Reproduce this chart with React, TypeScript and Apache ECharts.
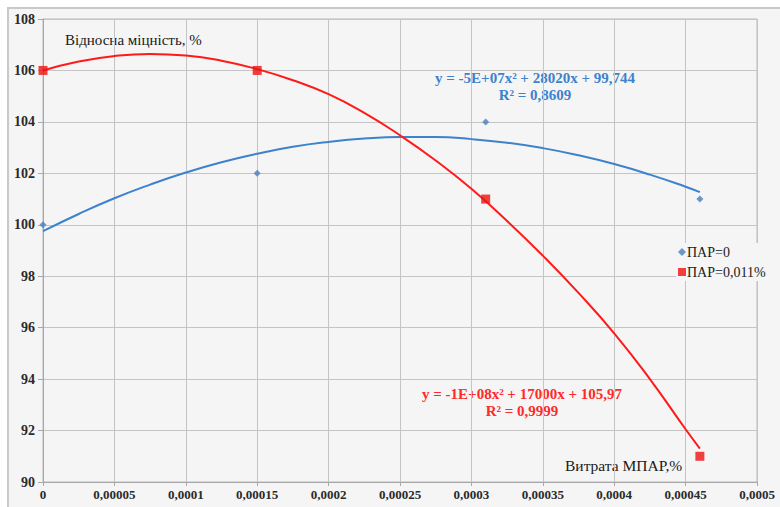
import React, { useEffect, useRef } from "react";
import * as echarts from "echarts";

// Measured points
const xPoints = [0, 0.00015, 0.00031, 0.00046];
const par0Values = [100, 102, 104, 101];
const par011Values = [106, 106, 101, 91];

// Trend curves
const trendX = [
  0, 0.000025, 0.00005, 0.000075, 0.0001, 0.000125, 0.00015, 0.000175, 0.0002, 0.000225,
  0.00025, 0.000275, 0.0003, 0.000325, 0.00035, 0.000375, 0.0004, 0.000425, 0.00045, 0.00046,
];
const trendPar0 = [
  99.75, 100.42, 101.03, 101.56, 102.03, 102.43, 102.76, 103.03, 103.22, 103.35,
  103.41, 103.41, 103.33, 103.19, 102.98, 102.7, 102.36, 101.95, 101.48, 101.27,
];
const trendPar011 = [
  106.0, 106.35, 106.56, 106.64, 106.58, 106.38, 106.05, 105.62, 105.08, 104.35,
  103.48, 102.5, 101.4, 100.15, 98.8, 97.35, 95.78, 94.0, 92.05, 91.3,
];

const seriesNames = ["ПАР=0", "ПАР=0,011%"];
const eqPar0 = ["y = -5E+07x² + 28020x + 99,744", "R² = 0,8609"];
const eqPar011 = ["y = -1E+08x² + 17000x + 105,97", "R² = 0,9999"];
const yTitle = "Відносна міцність, %";
const xTitle = "Витрата МПАР,%";

const BLUE = "#3d82cc";
const RED = "#ff1a1a";
const SERIF = "Times New Roman, Liberation Serif, DejaVu Serif, serif";

function fmtX(v: number): string {
  let s = v.toFixed(5);
  if (s.indexOf(".") >= 0) s = s.replace(/0+$/, "").replace(/\.$/, "");
  return s.replace(".", ",");
}

export default function App() {
  const ref = useRef<HTMLDivElement>(null);
  useEffect(() => {
    if (!ref.current) return;
    const chart = echarts.init(ref.current, null, { renderer: "svg" });
    const pts = (ys: number[]) => xPoints.map((x, i) => [x, ys[i]]);
    const tr = (ys: number[]) => trendX.map((x, i) => [x, ys[i]]);
    chart.setOption({
      animation: false,
      backgroundColor: "#f5f5f5",
      textStyle: { fontFamily: SERIF },
      grid: { left: 43, right: 23, top: 19, bottom: 25, show: true, borderColor: "#b8b8b8", borderWidth: 1 },
      xAxis: {
        type: "value",
        min: 0,
        max: 0.0005,
        interval: 0.00005,
        axisLine: { show: true, onZero: false, lineStyle: { color: "#a8a8a8", width: 1 } },
        axisTick: { show: true, length: 4, lineStyle: { color: "#a8a8a8" } },
        splitLine: { show: true, lineStyle: { color: "#c4c4c4", width: 1 } },
        axisLabel: {
          formatter: (v: number) => fmtX(v),
          fontFamily: SERIF,
          fontWeight: "bold",
          fontSize: 13,
          color: "#2a2a2a",
          margin: 6,
        },
      },
      yAxis: {
        type: "value",
        min: 90,
        max: 108,
        interval: 2,
        axisLine: { show: true, lineStyle: { color: "#a8a8a8", width: 1 } },
        axisTick: { show: true, length: 5, lineStyle: { color: "#a8a8a8" } },
        splitLine: { show: true, lineStyle: { color: "#c4c4c4", width: 1 } },
        axisLabel: {
          fontFamily: SERIF,
          fontWeight: "bold",
          fontSize: 14,
          color: "#2a2a2a",
          margin: 8,
        },
      },
      legend: {
        data: [
          { name: seriesNames[0], icon: "diamond" },
          { name: seriesNames[1], icon: "rect" },
        ],
        orient: "vertical",
        left: 676,
        top: 243,
        itemWidth: 8,
        itemHeight: 8,
        itemGap: 6,
        padding: [2, 2, 2, 2],
        backgroundColor: "#f5f5f5",
        textStyle: { fontFamily: SERIF, fontSize: 14, color: "#1a1a1a", padding: [0, 0, 0, -4] },
      },
      graphic: [
        { type: "rect", shape: { x: 0, y: 0, width: 780, height: 7 }, style: { fill: "#ffffff" }, silent: true, z: -1 },
        { type: "rect", shape: { x: 0, y: 0, width: 7, height: 507 }, style: { fill: "#ffffff" }, silent: true, z: -1 },
        { type: "line", shape: { x1: 7, y1: 8, x2: 780, y2: 8 }, style: { stroke: "#c9c9c9", lineWidth: 2 }, silent: true },
        { type: "line", shape: { x1: 8, y1: 7, x2: 8, y2: 507 }, style: { stroke: "#c9c9c9", lineWidth: 2 }, silent: true },
        {
          type: "text", left: 65, top: 32,
          style: { text: yTitle, fontFamily: SERIF, fontSize: 15, fill: "#1a1a1a" },
        },
        {
          type: "text", left: 565, top: 457,
          style: { text: xTitle, fontFamily: SERIF, fontSize: 15.5, fill: "#1a1a1a" },
        },
        {
          type: "text", x: 535, y: 69,
          style: { text: eqPar0[0] + "\n" + eqPar0[1], fontFamily: SERIF, fontSize: 15, fontWeight: "bold", fill: BLUE, align: "center", lineHeight: 17 },
        },
        {
          type: "text", x: 522, y: 385,
          style: { text: eqPar011[0] + "\n" + eqPar011[1], fontFamily: SERIF, fontSize: 15, fontWeight: "bold", fill: "#ff2a2a", align: "center", lineHeight: 17 },
        },
      ],
      series: [
        {
          name: "trend0",
          type: "line",
          data: tr(trendPar0),
          smooth: true,
          showSymbol: false,
          lineStyle: { color: BLUE, width: 2 },
          z: 2,
        },
        {
          name: "trend011",
          type: "line",
          data: tr(trendPar011),
          smooth: true,
          showSymbol: false,
          lineStyle: { color: RED, width: 2 },
          z: 2,
        },
        {
          name: seriesNames[0],
          type: "scatter",
          data: pts(par0Values),
          symbol: "diamond",
          symbolSize: 7,
          itemStyle: { color: "#4a7ec0" },
          z: 3,
        },
        {
          name: seriesNames[1],
          type: "scatter",
          data: pts(par011Values),
          symbol: "rect",
          symbolSize: 9,
          itemStyle: { color: "#ee1111" },
          z: 3,
        },
      ],
    });
    return () => chart.dispose();
  }, []);
  return (
    <div
      ref={ref}
      style={{ position: "absolute", left: 0, top: 0, width: 780, height: 507 }}
    />
  );
}
